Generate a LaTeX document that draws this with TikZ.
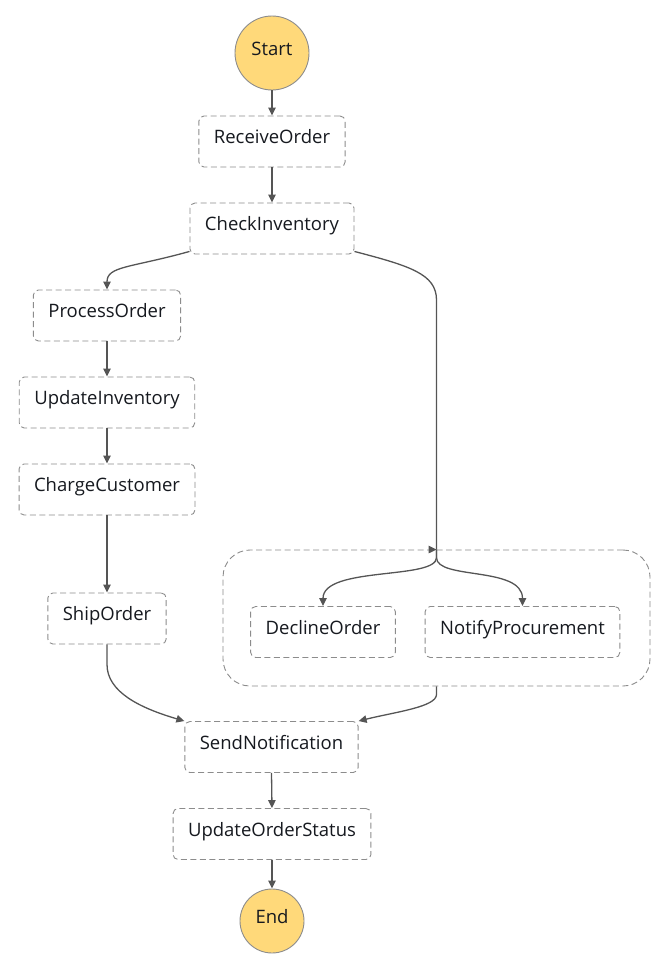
\documentclass[tikz,border=0pt]{standalone}
\usepackage{fontspec}
\setmainfont{Open Sans}
\usepackage{tikz}
\usetikzlibrary{arrows.meta}

\definecolor{termfill}{HTML}{FFD97A}
\definecolor{edgegray}{HTML}{555555}
\definecolor{boxgray}{HTML}{8C8C8C}
\definecolor{textblack}{HTML}{16191F}

\tikzset{
  state/.style={draw=boxgray, line width=0.9pt, dash pattern=on 6pt off 3.5pt,
    rounded corners=5pt, rectangle, minimum height=51pt, inner xsep=15pt,
    text height=15pt, text depth=11pt, text=textblack,
    font=\fontsize{18.5}{22}\selectfont},
  terminal/.style={draw=boxgray, line width=0.9pt, fill=termfill, circle,
    inner sep=0pt, text height=15pt, text depth=11pt, text=textblack,
    font=\fontsize{18.5}{22}\selectfont},
  parallel/.style={draw=boxgray, line width=0.9pt, dash pattern=on 6pt off 3.5pt,
    rounded corners=27pt, rectangle, minimum width=427pt, minimum height=136pt},
  flow/.style={-{Triangle[length=8pt, width=7.5pt]}, draw=edgegray, line width=1.3pt}
}

\begin{document}
\begin{tikzpicture}[x=1pt, y=-1pt]
\useasboundingbox (0,0) rectangle (668,969);

\node[terminal, minimum size=74pt] (start) at (272,53)
  {Start};
\node[state] (receive) at (272,141.5)
  {ReceiveOrder};
\node[state] (check) at (272,228.5)
  {CheckInventory};

\node[state] (process) at (107,315.5)
  {ProcessOrder};
\node[state] (updinv) at (107,402.5)
  {UpdateInventory};
\node[state] (charge) at (107,489.5)
  {ChargeCustomer};
\node[state] (ship) at (107,618.5)
  {ShipOrder};

\node[parallel] (par) at (436.5,618)
  {};
\node[state] (decline) at (323,632)
  {DeclineOrder};
\node[state] (notify) at (522.5,632)
  {NotifyProcurement};

\node[state] (sendnot) at (271.5,747)
  {SendNotification};
\node[state] (updstatus) at (272,834)
  {UpdateOrderStatus};
\node[terminal, minimum size=64pt] (end) at (272,921)
  {End};

\draw[flow] (start.south) -- (receive.north);
\draw[flow] (receive.south) -- (check.north);
\draw[flow] ([yshift=3pt]check.south west) .. controls (130,268) and (107,266) .. (process.north);
\draw[draw=edgegray, line width=1.3pt] ([yshift=3pt]check.south east) .. controls (410,266) and (436.5,274) .. (436.5,300) -- (par.north);
\draw[flow] ([xshift=-1pt]par.north) -- (par.north);

\draw[flow] (process.south) -- (updinv.north);
\draw[flow] (updinv.south) -- (charge.north);
\draw[flow] (charge.south) -- (ship.north);

\draw[flow] (par.north) -- ++(0,8) .. controls (436.5,580) and (323,566) .. (decline.north);
\draw[flow] (par.north) -- ++(0,8) .. controls (436.5,580) and (522.5,566) .. (notify.north);

\draw[flow] (ship.south) -- ++(0,20) .. controls (107,692) and (140,708) .. (sendnot.north west);
\draw[flow] (par.south) -- ++(0,8) .. controls (436.5,707) and (395,712) .. (sendnot.north east);

\draw[flow] (sendnot.south) -- (updstatus.north);
\draw[flow] (updstatus.south) -- (end.north);

\end{tikzpicture}
\end{document}
